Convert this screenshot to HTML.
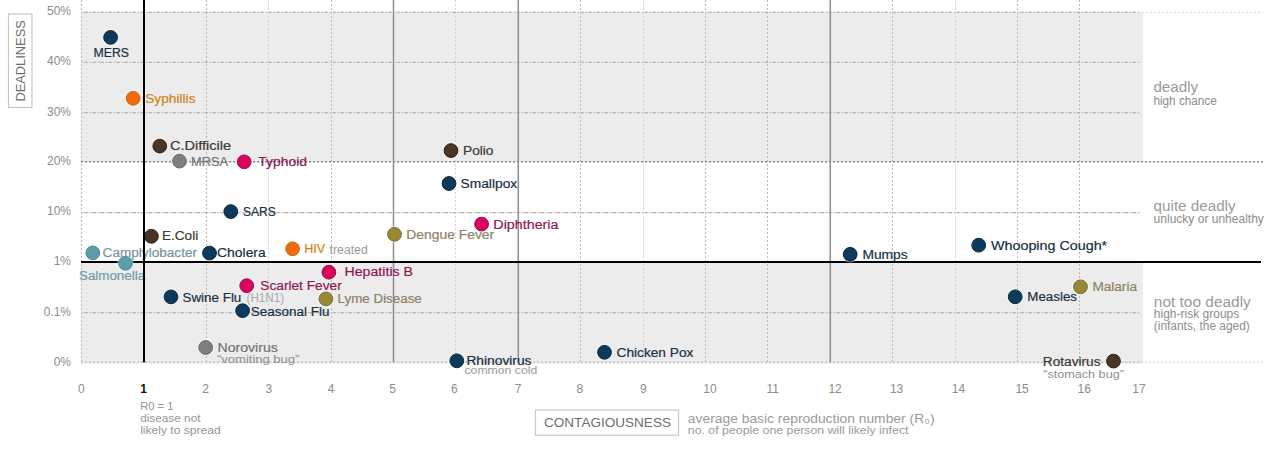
<!DOCTYPE html><html><head><meta charset="utf-8"><style>html,body{margin:0;padding:0;background:#fff;width:1272px;height:451px;overflow:hidden}svg{display:block;font-family:"Liberation Sans",sans-serif}</style></head><body>
<svg width="1272" height="451" viewBox="0 0 1272 451">
<rect x="0" y="0" width="1272" height="451" fill="#fff"/>
<rect x="81.0" y="12.3" width="1062.0" height="149.39999999999998" fill="#ececec"/>
<rect x="81.0" y="262.0" width="1062.0" height="101.50000000000001" fill="#ececec"/>
<line x1="81.5" y1="0" x2="81.5" y2="362.3" stroke="#b8b8b8" stroke-width="1" stroke-dasharray="2 2"/>
<line x1="206.5" y1="0" x2="206.5" y2="362.3" stroke="#b8b8b8" stroke-width="1" stroke-dasharray="2 2"/>
<line x1="268.5" y1="0" x2="268.5" y2="362.3" stroke="#d4d4d4" stroke-width="1" stroke-dasharray="2 2"/>
<line x1="331.5" y1="0" x2="331.5" y2="362.3" stroke="#b8b8b8" stroke-width="1" stroke-dasharray="2 2"/>
<line x1="455.5" y1="0" x2="455.5" y2="362.3" stroke="#d4d4d4" stroke-width="1" stroke-dasharray="2 2"/>
<line x1="580.5" y1="0" x2="580.5" y2="362.3" stroke="#b8b8b8" stroke-width="1" stroke-dasharray="2 2"/>
<line x1="643.5" y1="0" x2="643.5" y2="362.3" stroke="#d4d4d4" stroke-width="1" stroke-dasharray="2 2"/>
<line x1="705.5" y1="0" x2="705.5" y2="362.3" stroke="#b8b8b8" stroke-width="1" stroke-dasharray="2 2"/>
<line x1="767.5" y1="0" x2="767.5" y2="362.3" stroke="#b8b8b8" stroke-width="1" stroke-dasharray="2 2"/>
<line x1="892.5" y1="0" x2="892.5" y2="362.3" stroke="#b8b8b8" stroke-width="1" stroke-dasharray="2 2"/>
<line x1="955.5" y1="0" x2="955.5" y2="362.3" stroke="#d4d4d4" stroke-width="1" stroke-dasharray="2 2"/>
<line x1="1017.5" y1="0" x2="1017.5" y2="362.3" stroke="#b8b8b8" stroke-width="1" stroke-dasharray="2 2"/>
<line x1="1079.5" y1="0" x2="1079.5" y2="362.3" stroke="#b8b8b8" stroke-width="1" stroke-dasharray="2 2"/>
<line x1="81.0" y1="12.3" x2="1140" y2="12.3" stroke="#cfcfcf" stroke-width="1.2" stroke-dasharray="6.5 1.5"/>
<line x1="81.0" y1="12.3" x2="1140" y2="12.3" stroke="#a8a8a8" stroke-width="1.2" stroke-dasharray="2 6" stroke-dashoffset="-4.5"/>
<line x1="1142" y1="12.3" x2="1263" y2="12.3" stroke="#d8d8d8" stroke-width="1.2" stroke-dasharray="2 2"/>
<line x1="81.0" y1="62.3" x2="1140" y2="62.3" stroke="#cfcfcf" stroke-width="1.2" stroke-dasharray="6.5 1.5"/>
<line x1="81.0" y1="62.3" x2="1140" y2="62.3" stroke="#a8a8a8" stroke-width="1.2" stroke-dasharray="2 6" stroke-dashoffset="-4.5"/>
<line x1="81.0" y1="112.6" x2="1140" y2="112.6" stroke="#cfcfcf" stroke-width="1.2" stroke-dasharray="6.5 1.5"/>
<line x1="81.0" y1="112.6" x2="1140" y2="112.6" stroke="#a8a8a8" stroke-width="1.2" stroke-dasharray="2 6" stroke-dashoffset="-4.5"/>
<line x1="81.0" y1="161.7" x2="1263" y2="161.7" stroke="#8a8a8a" stroke-width="1.4" stroke-dasharray="2.2 1.8"/>
<line x1="81.0" y1="212.6" x2="1140" y2="212.6" stroke="#cfcfcf" stroke-width="1.2" stroke-dasharray="6.5 1.5"/>
<line x1="81.0" y1="212.6" x2="1140" y2="212.6" stroke="#a8a8a8" stroke-width="1.2" stroke-dasharray="2 6" stroke-dashoffset="-4.5"/>
<line x1="81.0" y1="312.6" x2="1140" y2="312.6" stroke="#cfcfcf" stroke-width="1.2" stroke-dasharray="6.5 1.5"/>
<line x1="81.0" y1="312.6" x2="1140" y2="312.6" stroke="#a8a8a8" stroke-width="1.2" stroke-dasharray="2 6" stroke-dashoffset="-4.5"/>
<line x1="81.0" y1="362.3" x2="1263" y2="362.3" stroke="#c6c6c6" stroke-width="1.4" stroke-dasharray="2.2 1.8"/>
<rect x="1142" y="361.3" width="125" height="2.5" fill="#fff" fill-opacity="0.6"/>
<line x1="393.5" y1="0" x2="393.5" y2="362.3" stroke="#8e8e8e" stroke-width="1.5"/>
<line x1="518.3" y1="0" x2="518.3" y2="362.3" stroke="#8e8e8e" stroke-width="1.5"/>
<line x1="830.3" y1="0" x2="830.3" y2="362.3" stroke="#8e8e8e" stroke-width="1.5"/>
<rect x="81.0" y="261" width="1180.0" height="2" fill="#000"/>
<text x="71" y="15.1" font-size="12" fill="#8c8c8c" text-anchor="end">50%</text>
<text x="71" y="65.4" font-size="12" fill="#8c8c8c" text-anchor="end">40%</text>
<text x="71" y="115.7" font-size="12" fill="#8c8c8c" text-anchor="end">30%</text>
<text x="71" y="164.9" font-size="12" fill="#8c8c8c" text-anchor="end">20%</text>
<text x="71" y="215.4" font-size="12" fill="#8c8c8c" text-anchor="end">10%</text>
<text x="71" y="265.4" font-size="12" fill="#8c8c8c" text-anchor="end">1%</text>
<text x="71" y="315.7" font-size="12" fill="#8c8c8c" text-anchor="end">0.1%</text>
<text x="71" y="365.7" font-size="12" fill="#8c8c8c" text-anchor="end">0%</text>
<text x="81.4" y="393" font-size="12" fill="#8c8c8c" text-anchor="middle">0</text>
<text x="143.7" y="393" font-size="12" font-weight="bold" fill="#111" text-anchor="middle">1</text>
<text x="205.5" y="393" font-size="12" fill="#8c8c8c" text-anchor="middle">2</text>
<text x="268.9" y="393" font-size="12" fill="#8c8c8c" text-anchor="middle">3</text>
<text x="331.2" y="393" font-size="12" fill="#8c8c8c" text-anchor="middle">4</text>
<text x="392.5" y="393" font-size="12" fill="#8c8c8c" text-anchor="middle">5</text>
<text x="454.4" y="393" font-size="12" fill="#8c8c8c" text-anchor="middle">6</text>
<text x="518.0" y="393" font-size="12" fill="#8c8c8c" text-anchor="middle">7</text>
<text x="579.9" y="393" font-size="12" fill="#8c8c8c" text-anchor="middle">8</text>
<text x="643.4" y="393" font-size="12" fill="#8c8c8c" text-anchor="middle">9</text>
<text x="709.9" y="393" font-size="12" fill="#8c8c8c" text-anchor="middle">10</text>
<text x="772.7" y="393" font-size="12" fill="#8c8c8c" text-anchor="middle">11</text>
<text x="835.1" y="393" font-size="12" fill="#8c8c8c" text-anchor="middle">12</text>
<text x="896.6" y="393" font-size="12" fill="#8c8c8c" text-anchor="middle">13</text>
<text x="958.5" y="393" font-size="12" fill="#8c8c8c" text-anchor="middle">14</text>
<text x="1022.1" y="393" font-size="12" fill="#8c8c8c" text-anchor="middle">15</text>
<text x="1084.2" y="393" font-size="12" fill="#8c8c8c" text-anchor="middle">16</text>
<text x="1138.9" y="393" font-size="12" fill="#8c8c8c" text-anchor="middle">17</text>
<text x="140.2" y="409.8" font-size="10.5" fill="#959595" textLength="33.3" lengthAdjust="spacingAndGlyphs">R0 = 1</text>
<text x="140.2" y="421.8" font-size="11.5" fill="#959595" textLength="60.3" lengthAdjust="spacingAndGlyphs">disease not</text>
<text x="140.2" y="434" font-size="11.5" fill="#959595" textLength="80.5" lengthAdjust="spacingAndGlyphs">likely to spread</text>
<circle cx="110.6" cy="37.4" r="8.3" fill="#fff" fill-opacity="0.55"/>
<circle cx="110.6" cy="37.4" r="6.9" fill="#0d3a5c" stroke="#0a2a42" stroke-width="1"/>
<circle cx="133.2" cy="98.3" r="8.3" fill="#fff" fill-opacity="0.55"/>
<circle cx="133.2" cy="98.3" r="6.9" fill="#f06a0a" stroke="#cc6a12" stroke-width="1"/>
<circle cx="159.8" cy="146.1" r="8.3" fill="#fff" fill-opacity="0.55"/>
<circle cx="159.8" cy="146.1" r="6.9" fill="#4a3422" stroke="#2e2218" stroke-width="1"/>
<circle cx="179.5" cy="161.1" r="8.3" fill="#fff" fill-opacity="0.55"/>
<circle cx="179.5" cy="161.1" r="6.9" fill="#7e7e7e" stroke="#6c6c6c" stroke-width="1"/>
<circle cx="244.2" cy="161.8" r="8.3" fill="#fff" fill-opacity="0.55"/>
<circle cx="244.2" cy="161.8" r="6.9" fill="#d8045e" stroke="#a00a48" stroke-width="1"/>
<circle cx="451.0" cy="150.6" r="8.3" fill="#fff" fill-opacity="0.55"/>
<circle cx="451.0" cy="150.6" r="6.9" fill="#4a3422" stroke="#2e2218" stroke-width="1"/>
<circle cx="449.0" cy="183.5" r="8.3" fill="#fff" fill-opacity="0.55"/>
<circle cx="449.0" cy="183.5" r="6.9" fill="#0d3a5c" stroke="#0a2a42" stroke-width="1"/>
<circle cx="230.8" cy="211.6" r="8.3" fill="#fff" fill-opacity="0.55"/>
<circle cx="230.8" cy="211.6" r="6.9" fill="#0d3a5c" stroke="#0a2a42" stroke-width="1"/>
<circle cx="151.4" cy="236.3" r="8.3" fill="#fff" fill-opacity="0.55"/>
<circle cx="151.4" cy="236.3" r="6.9" fill="#4a3422" stroke="#2e2218" stroke-width="1"/>
<circle cx="92.8" cy="252.9" r="8.3" fill="#fff" fill-opacity="0.55"/>
<circle cx="92.8" cy="252.9" r="6.9" fill="#5c9dac" stroke="#4a8a98" stroke-width="1"/>
<circle cx="209.5" cy="253.1" r="8.3" fill="#fff" fill-opacity="0.55"/>
<circle cx="209.5" cy="253.1" r="6.9" fill="#0d3a5c" stroke="#0a2a42" stroke-width="1"/>
<circle cx="292.6" cy="248.8" r="8.3" fill="#fff" fill-opacity="0.55"/>
<circle cx="292.6" cy="248.8" r="6.9" fill="#f06a0a" stroke="#cc6a12" stroke-width="1"/>
<circle cx="394.5" cy="234.3" r="8.3" fill="#fff" fill-opacity="0.55"/>
<circle cx="394.5" cy="234.3" r="6.9" fill="#978838" stroke="#7a6e30" stroke-width="1"/>
<circle cx="481.6" cy="224.1" r="8.3" fill="#fff" fill-opacity="0.55"/>
<circle cx="481.6" cy="224.1" r="6.9" fill="#d8045e" stroke="#a00a48" stroke-width="1"/>
<circle cx="328.9" cy="272.2" r="8.3" fill="#fff" fill-opacity="0.55"/>
<circle cx="328.9" cy="272.2" r="6.9" fill="#d8045e" stroke="#a00a48" stroke-width="1"/>
<circle cx="125.5" cy="263.3" r="8.3" fill="#fff" fill-opacity="0.55"/>
<circle cx="125.5" cy="263.3" r="6.9" fill="#5c9dac" stroke="#4a8a98" stroke-width="1"/>
<circle cx="246.7" cy="285.7" r="8.3" fill="#fff" fill-opacity="0.55"/>
<circle cx="246.7" cy="285.7" r="6.9" fill="#d8045e" stroke="#a00a48" stroke-width="1"/>
<circle cx="171.0" cy="296.9" r="8.3" fill="#fff" fill-opacity="0.55"/>
<circle cx="171.0" cy="296.9" r="6.9" fill="#0d3a5c" stroke="#0a2a42" stroke-width="1"/>
<circle cx="325.9" cy="298.9" r="8.3" fill="#fff" fill-opacity="0.55"/>
<circle cx="325.9" cy="298.9" r="6.9" fill="#978838" stroke="#7a6e30" stroke-width="1"/>
<circle cx="242.6" cy="310.7" r="8.3" fill="#fff" fill-opacity="0.55"/>
<circle cx="242.6" cy="310.7" r="6.9" fill="#0d3a5c" stroke="#0a2a42" stroke-width="1"/>
<circle cx="205.7" cy="347.5" r="8.3" fill="#fff" fill-opacity="0.55"/>
<circle cx="205.7" cy="347.5" r="6.9" fill="#7e7e7e" stroke="#6c6c6c" stroke-width="1"/>
<circle cx="456.8" cy="360.8" r="8.3" fill="#fff" fill-opacity="0.55"/>
<circle cx="456.8" cy="360.8" r="6.9" fill="#0d3a5c" stroke="#0a2a42" stroke-width="1"/>
<circle cx="604.5" cy="352.3" r="8.3" fill="#fff" fill-opacity="0.55"/>
<circle cx="604.5" cy="352.3" r="6.9" fill="#0d3a5c" stroke="#0a2a42" stroke-width="1"/>
<circle cx="850.2" cy="254.3" r="8.3" fill="#fff" fill-opacity="0.55"/>
<circle cx="850.2" cy="254.3" r="6.9" fill="#0d3a5c" stroke="#0a2a42" stroke-width="1"/>
<circle cx="978.7" cy="245.2" r="8.3" fill="#fff" fill-opacity="0.55"/>
<circle cx="978.7" cy="245.2" r="6.9" fill="#0d3a5c" stroke="#0a2a42" stroke-width="1"/>
<circle cx="1015.2" cy="296.8" r="8.3" fill="#fff" fill-opacity="0.55"/>
<circle cx="1015.2" cy="296.8" r="6.9" fill="#0d3a5c" stroke="#0a2a42" stroke-width="1"/>
<circle cx="1080.5" cy="286.8" r="8.3" fill="#fff" fill-opacity="0.55"/>
<circle cx="1080.5" cy="286.8" r="6.9" fill="#978838" stroke="#7a6e30" stroke-width="1"/>
<circle cx="1113.5" cy="361.1" r="8.3" fill="#fff" fill-opacity="0.55"/>
<circle cx="1113.5" cy="361.1" r="6.9" fill="#4a3422" stroke="#2e2218" stroke-width="1"/>
<text x="93.6" y="56.7" font-size="12" fill="#16303f" stroke="#16303f" stroke-width="0.18" textLength="35.4" lengthAdjust="spacingAndGlyphs">MERS</text>
<text x="145.2" y="102.6" font-size="12" fill="#d2821a" stroke="#d2821a" stroke-width="0.18" textLength="50.3" lengthAdjust="spacingAndGlyphs">Syphillis</text>
<text x="169.9" y="149.8" font-size="12" fill="#3e3833" stroke="#3e3833" stroke-width="0.18" textLength="61.3" lengthAdjust="spacingAndGlyphs">C.Difficile</text>
<text x="191.0" y="165.8" font-size="12" fill="#727272" stroke="#727272" stroke-width="0.18" textLength="37.0" lengthAdjust="spacingAndGlyphs">MRSA</text>
<text x="258.3" y="165.5" font-size="12" fill="#8e1654" stroke="#8e1654" stroke-width="0.18" textLength="48.7" lengthAdjust="spacingAndGlyphs">Typhoid</text>
<text x="463.0" y="154.7" font-size="12" fill="#3e3833" stroke="#3e3833" stroke-width="0.18" textLength="30.5" lengthAdjust="spacingAndGlyphs">Polio</text>
<text x="460.5" y="187.5" font-size="12" fill="#16303f" stroke="#16303f" stroke-width="0.18" textLength="56.7" lengthAdjust="spacingAndGlyphs">Smallpox</text>
<text x="243.0" y="215.7" font-size="12" fill="#16303f" stroke="#16303f" stroke-width="0.18" textLength="32.9" lengthAdjust="spacingAndGlyphs">SARS</text>
<text x="162.0" y="239.6" font-size="12" fill="#3e3833" stroke="#3e3833" stroke-width="0.18" textLength="36.2" lengthAdjust="spacingAndGlyphs">E.Coli</text>
<text x="102.6" y="256.9" font-size="12" fill="#74949b" stroke="#74949b" stroke-width="0.18" textLength="94.4" lengthAdjust="spacingAndGlyphs">Camplylobacter</text>
<text x="217.1" y="256.9" font-size="12" fill="#16303f" stroke="#16303f" stroke-width="0.18" textLength="48.6" lengthAdjust="spacingAndGlyphs">Cholera</text>
<text x="304.3" y="252.8" font-size="12" fill="#d2821a" stroke="#d2821a" stroke-width="0.18" textLength="20.9" lengthAdjust="spacingAndGlyphs">HIV</text>
<text x="406.3" y="238.5" font-size="12" fill="#8a8262" stroke="#8a8262" stroke-width="0.18" textLength="87.9" lengthAdjust="spacingAndGlyphs">Dengue Fever</text>
<text x="493.3" y="228.7" font-size="12" fill="#8e1654" stroke="#8e1654" stroke-width="0.18" textLength="65.2" lengthAdjust="spacingAndGlyphs">Diphtheria</text>
<text x="344.5" y="276.0" font-size="12" fill="#8e1654" stroke="#8e1654" stroke-width="0.18" textLength="68.5" lengthAdjust="spacingAndGlyphs">Hepatitis B</text>
<text x="79.0" y="279.5" font-size="12" fill="#6c9ca4" stroke="#6c9ca4" stroke-width="0.18" textLength="66.1" lengthAdjust="spacingAndGlyphs">Salmonella</text>
<text x="260.3" y="290.2" font-size="12" fill="#8e1654" stroke="#8e1654" stroke-width="0.18" textLength="81.4" lengthAdjust="spacingAndGlyphs">Scarlet Fever</text>
<text x="182.5" y="301.8" font-size="12" fill="#16303f" stroke="#16303f" stroke-width="0.18" textLength="58.8" lengthAdjust="spacingAndGlyphs">Swine Flu</text>
<text x="337.6" y="303.4" font-size="12" fill="#8a8262" stroke="#8a8262" stroke-width="0.18" textLength="84.2" lengthAdjust="spacingAndGlyphs">Lyme Disease</text>
<text x="250.8" y="315.7" font-size="12" fill="#16303f" stroke="#16303f" stroke-width="0.18" textLength="78.7" lengthAdjust="spacingAndGlyphs">Seasonal Flu</text>
<text x="217.5" y="351.9" font-size="12" fill="#727272" stroke="#727272" stroke-width="0.18" textLength="60.3" lengthAdjust="spacingAndGlyphs">Norovirus</text>
<text x="466.4" y="364.5" font-size="12" fill="#16303f" stroke="#16303f" stroke-width="0.18" textLength="65.1" lengthAdjust="spacingAndGlyphs">Rhinovirus</text>
<text x="616.5" y="356.5" font-size="12" fill="#16303f" stroke="#16303f" stroke-width="0.18" textLength="76.9" lengthAdjust="spacingAndGlyphs">Chicken Pox</text>
<text x="862.4" y="258.8" font-size="12" fill="#16303f" stroke="#16303f" stroke-width="0.18" textLength="45.3" lengthAdjust="spacingAndGlyphs">Mumps</text>
<text x="991.0" y="250.0" font-size="12" fill="#16303f" stroke="#16303f" stroke-width="0.18" textLength="116.2" lengthAdjust="spacingAndGlyphs">Whooping Cough*</text>
<text x="1027.3" y="300.5" font-size="12" fill="#16303f" stroke="#16303f" stroke-width="0.18" textLength="49.7" lengthAdjust="spacingAndGlyphs">Measles</text>
<text x="1092.4" y="290.7" font-size="12" fill="#8a8262" stroke="#8a8262" stroke-width="0.18" textLength="44.6" lengthAdjust="spacingAndGlyphs">Malaria</text>
<text x="1042.8" y="365.7" font-size="12" fill="#3e3833" stroke="#3e3833" stroke-width="0.18" textLength="57.7" lengthAdjust="spacingAndGlyphs">Rotavirus</text>
<text x="329.6" y="253.6" font-size="12" fill="#9a9a9a" textLength="38.1" lengthAdjust="spacingAndGlyphs">treated</text>
<text x="246.5" y="301.8" font-size="12" fill="#aaaaaa" textLength="37.7" lengthAdjust="spacingAndGlyphs">(H1N1)</text>
<text x="217.0" y="363.2" font-size="11.5" fill="#8e8e8e" textLength="82.4" lengthAdjust="spacingAndGlyphs">“vomiting bug”</text>
<text x="464.5" y="374.0" font-size="11.5" fill="#9a9a9a" textLength="72.7" lengthAdjust="spacingAndGlyphs">common cold</text>
<text x="1043.2" y="377.9" font-size="11.5" fill="#8e8e8e" textLength="80.7" lengthAdjust="spacingAndGlyphs">“stomach bug”</text>
<rect x="143" y="0" width="2" height="362.3" fill="#000"/>
<text x="1153.4" y="91.7" font-size="15.5" fill="#9a9a9a" textLength="44.7" lengthAdjust="spacingAndGlyphs">deadly</text>
<text x="1153.4" y="104.9" font-size="12" fill="#8c8c8c" textLength="63.4" lengthAdjust="spacingAndGlyphs">high chance</text>
<text x="1153.6" y="210.7" font-size="15.5" fill="#9a9a9a" textLength="82" lengthAdjust="spacingAndGlyphs">quite deadly</text>
<text x="1153.6" y="222.5" font-size="12" fill="#8c8c8c" textLength="110.3" lengthAdjust="spacingAndGlyphs">unlucky or unhealthy</text>
<text x="1153.8" y="307" font-size="15.5" fill="#9a9a9a" textLength="97" lengthAdjust="spacingAndGlyphs">not too deadly</text>
<text x="1153.8" y="317.7" font-size="12" fill="#8c8c8c" textLength="85.5" lengthAdjust="spacingAndGlyphs">high-risk groups</text>
<text x="1153.8" y="330.4" font-size="12" fill="#8c8c8c" textLength="96" lengthAdjust="spacingAndGlyphs">(infants, the aged)</text>
<rect x="8.5" y="14" width="23.5" height="93.5" fill="none" stroke="#c8c8c8" stroke-width="1.2"/>
<text transform="translate(25,101.6) rotate(-90)" x="0" y="0" font-size="13" fill="#6e6e6e" textLength="81.4" lengthAdjust="spacingAndGlyphs">DEADLINESS</text>
<rect x="535.5" y="410" width="143" height="25.2" fill="none" stroke="#c8c8c8" stroke-width="1.2"/>
<text x="544" y="426.7" font-size="13" fill="#6e6e6e" textLength="127" lengthAdjust="spacingAndGlyphs">CONTAGIOUSNESS</text>
<text x="687.8" y="423" font-size="13.5" fill="#9a9a9a" textLength="246.7" lengthAdjust="spacingAndGlyphs">average basic reproduction number (R₀)</text>
<text x="687.8" y="433.6" font-size="11.5" fill="#9a9a9a" textLength="220.7" lengthAdjust="spacingAndGlyphs">no. of people one person will likely infect</text>
</svg></body></html>
